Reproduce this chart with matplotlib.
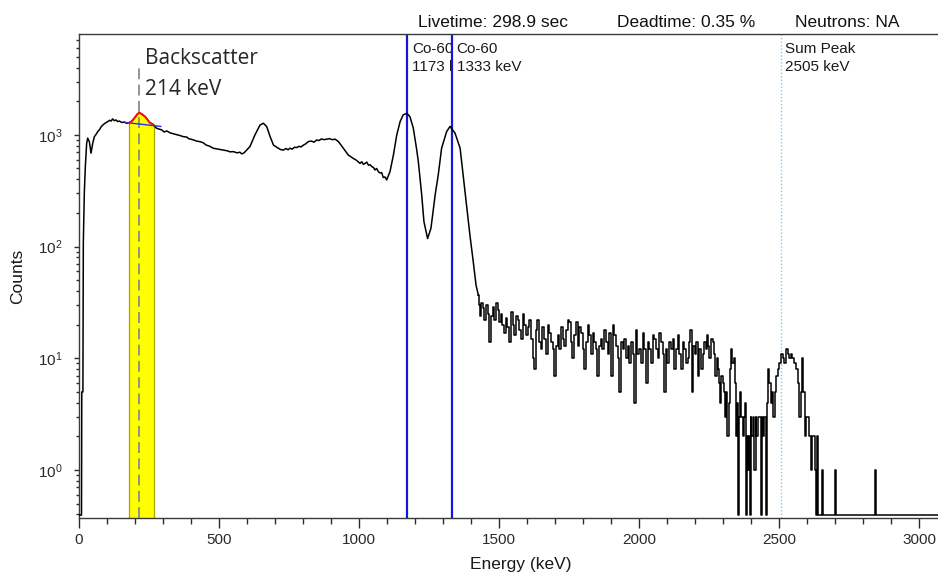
import numpy as np
import matplotlib
matplotlib.use("Agg")
import matplotlib.pyplot as plt
from matplotlib.patches import Rectangle
from matplotlib.transforms import blended_transform_factory
from matplotlib.ticker import MultipleLocator, LogLocator, NullFormatter

plt.rcParams["font.family"] = ["Liberation Sans", "DejaVu Sans"]
plt.rcParams["mathtext.fontset"] = "custom"
plt.rcParams["mathtext.rm"] = "Liberation Sans"
plt.rcParams["mathtext.it"] = "Liberation Sans:italic"
plt.rcParams["mathtext.bf"] = "Liberation Sans:bold"

# ---- spectrum: smooth continuum part (keV, counts) ----
continuum_kev = [0, 10, 11, 15, 16.5, 20, 23.7, 28.4, 32, 38, 44, 50, 56, 62, 68, 75, 80,
                 86, 92, 98, 104, 110, 116, 121, 127, 133, 139, 145, 151, 157, 163, 169,
                 175, 190, 201, 209, 216, 226, 237, 254, 264, 278, 287, 296, 305, 314,
                 327, 340, 352, 362, 373, 386, 392, 400, 410, 420, 433, 444, 455, 468,
                 480, 497, 515, 530, 540, 552, 565, 575, 582, 590, 600, 611, 629, 647,
                 659, 671, 683, 695, 712, 720, 730, 740, 747, 754, 762, 770, 778, 786,
                 794, 802, 810, 819, 830, 840, 849, 858, 866, 875, 885, 895, 905, 915,
                 927, 944, 962, 980, 992, 1004, 1010, 1016, 1022, 1028, 1034, 1040, 1046,
                 1052, 1057, 1063, 1069, 1075, 1081, 1087, 1093, 1099, 1111, 1123, 1135,
                 1147, 1158, 1171, 1182, 1194, 1206, 1212, 1218, 1224, 1232, 1245, 1257,
                 1272, 1283, 1295, 1313, 1325, 1343, 1361, 1373, 1385, 1396, 1408, 1418,
                 1426]
continuum_counts = [0, 0, 5, 5, 108, 300, 520, 840, 935, 870, 685, 840, 965, 1010, 1070,
                    1120, 1180, 1225, 1260, 1290, 1315, 1350, 1330, 1390, 1340, 1360, 1315,
                    1330, 1300, 1290, 1305, 1275, 1270, 1330, 1435, 1530, 1580, 1530, 1455,
                    1285, 1245, 1146, 1125, 1110, 1060, 1084, 1040, 1020, 1000, 985, 964,
                    955, 925, 915, 900, 880, 869, 850, 810, 790, 759, 745, 730, 720, 705,
                    708, 690, 700, 675, 690, 733, 785, 1000, 1225, 1270, 1185, 965, 810,
                    760, 740, 730, 755, 735, 760, 745, 775, 770, 790, 780, 810, 830, 870,
                    880, 860, 900, 890, 920, 905, 915, 925, 905, 915, 870, 760, 660, 615,
                    590, 555, 575, 545, 555, 570, 535, 540, 520, 510, 485, 500, 470, 455,
                    460, 415, 420, 395, 470, 660, 1000, 1315, 1510, 1560, 1455, 1150, 740,
                    575, 410, 290, 167, 118, 146, 290, 438, 760, 1070, 1190, 1035, 760, 410,
                    220, 127, 73, 45, 37]

# ---- spectrum: high-energy tail, channel readings (keV, counts) ----
tail_kev = [1426, 1429, 1432, 1438, 1444, 1450, 1456, 1462, 1468, 1474, 1480, 1486, 1492,
            1498, 1504, 1509, 1515, 1521, 1527, 1533, 1539, 1545, 1551, 1557, 1563, 1569,
            1575, 1581, 1587, 1593, 1599, 1605, 1611, 1617, 1623, 1628, 1634, 1640, 1646,
            1652, 1658, 1664, 1670, 1676, 1682, 1688, 1694, 1700, 1706, 1712, 1718, 1724,
            1730, 1736, 1742, 1748, 1753, 1759, 1765, 1771, 1777, 1783, 1789, 1795, 1801,
            1807, 1813, 1819, 1825, 1831, 1837, 1843, 1848, 1852, 1859, 1866, 1872, 1878,
            1884, 1890, 1896, 1902, 1908, 1914, 1920, 1926, 1932, 1938, 1944, 1950, 1956,
            1962, 1968, 1974, 1980, 1985, 1991, 1997, 2003, 2009, 2015, 2021, 2027, 2033,
            2039, 2045, 2051, 2057, 2063, 2069, 2075, 2081, 2087, 2092, 2098, 2104, 2110,
            2116, 2122, 2128, 2134, 2140, 2146, 2152, 2158, 2164, 2170, 2176, 2180, 2184,
            2191, 2196, 2200, 2206, 2211, 2217, 2223, 2229, 2235, 2239, 2243, 2248, 2253,
            2259, 2265, 2270, 2274, 2279, 2283, 2287, 2291, 2296, 2301, 2304, 2307, 2312,
            2318, 2321, 2324, 2327, 2330, 2336, 2342, 2345, 2348, 2351, 2354, 2357, 2360,
            2366, 2372, 2375, 2378, 2381, 2384, 2387, 2390, 2393, 2396, 2399, 2402, 2408,
            2414, 2417, 2420, 2426, 2432, 2435, 2437, 2440, 2443, 2449, 2455, 2458, 2461,
            2467, 2473, 2477, 2481, 2486, 2491, 2497, 2503, 2509, 2515, 2521, 2527, 2532,
            2538, 2544, 2550, 2556, 2562, 2568, 2574, 2579, 2584, 2588, 2592, 2598, 2604,
            2610, 2616, 2620, 2624, 2628, 2631, 2635, 2639, 2651, 2655, 2659, 2696, 2700,
            2704, 2839, 2843, 2847, 3160]
tail_counts = [37, 30, 24, 31, 28, 22, 30, 25, 14, 24, 29, 22, 31,
               27, 21, 25, 20, 17, 23, 19, 14, 26, 20, 16, 24, 22,
               18, 15, 25, 20, 16, 19, 22, 15, 10, 8, 18, 22, 14,
               12, 19, 15, 11, 20, 17, 14, 12, 7, 13, 16, 12, 19,
               15, 13, 18, 22, 21, 14, 10, 16, 21, 13, 19, 17, 12,
               8, 14, 20, 16, 11, 17, 14, 12, 7, 13, 15, 12, 18,
               14, 11, 17, 7, 20, 16, 13, 10, 5, 14, 12, 15, 10,
               13, 9, 14, 11, 4, 18, 11, 12, 9, 17, 12, 6, 14,
               12, 9, 16, 15, 12, 10, 17, 14, 11, 5, 12, 9, 14,
               12, 15, 8, 12, 16, 11, 8, 14, 12, 9, 10, 14, 18,
               5, 13, 11, 14, 7, 12, 8, 11, 14, 12, 16, 13, 10,
               15, 14, 11, 7, 10, 8, 6, 4, 7, 6, 5, 3, 5,
               2, 4, 5, 8, 12, 9, 10, 6, 2, 4, 0, 3, 5,
               3, 2, 3, 4, 2, 0, 2, 1, 2, 0, 3, 2, 3,
               1, 3, 2, 3, 3, 2, 0, 3, 2, 3, 0, 4, 8,
               6, 4, 5, 3, 5, 7, 8, 9, 11, 10, 9, 12, 11,
               10, 11, 10, 9, 8, 6, 3, 5, 10, 5, 2, 3, 3,
               2, 1, 2, 2, 1, 0, 2, 0, 0, 1, 0, 0, 1,
               0, 0, 1, 0, 0]

# ---- backscatter peak fit and its linear background ----
peak_kev = [181, 190, 201, 209, 216, 226, 237, 254, 264]
peak_counts = [1270, 1330, 1435, 1530, 1580, 1530, 1455, 1285, 1245]
bg_kev = [167, 293]
bg_counts = [1290, 1190]
roi_kev = [180.6, 267]
backscatter_kev = 214

# ---- marker lines ----
co60_kev = [1173, 1333]
sum_peak_kev = 2505
header_texts = ["Livetime: 298.9 sec", "Deadtime: 0.35 %", "Neutrons: NA"]

FLOOR = 0.395   # where empty channels are drawn on the log axis

W, H = 938, 577
fig = plt.figure(figsize=(W / 100, H / 100), dpi=100)
ax = fig.add_axes([78.7 / W, 1 - 518 / H, (962 - 78.7) / W, (518 - 34.3) / H])
ax.set_yscale("log")
ax.set_xlim(0, 3152)
ax.set_ylim(0.372, 7945)

# region of interest shading under the backscatter peak
fx = np.linspace(roi_kev[0], roi_kev[1], 80)
ftop = np.interp(fx, peak_kev, peak_counts)
ax.fill_between(fx, FLOOR * 0.9, ftop, color="#ffff00", lw=0, zorder=1)
ax.vlines(roi_kev, FLOOR * 0.9, [ftop[0], ftop[-1]], colors="#a6a600", lw=0.9, zorder=1.5)
ax.axvline(backscatter_kev, ymax=(518 - 67) / (518 - 34.3), color="#8a8a8a",
           lw=1.3, ls=(0, (6, 3)), zorder=1.6)

# nuclide marker lines
for e in co60_kev:
    ax.axvline(e, color="#1515dc", lw=1.6, zorder=2)
ax.axvline(sum_peak_kev, color="#86c8f2", lw=1.0, ls=(0, (1, 1.5)), zorder=2)

# spectrum
ax.plot(continuum_kev, np.maximum(continuum_counts, FLOOR), color="black", lw=1.1,
        zorder=3)
ax.plot(tail_kev, np.maximum(tail_counts, FLOOR), color="black", lw=1.1,
        drawstyle="steps-mid", zorder=3)

# backscatter fit
ax.plot(bg_kev, bg_counts, color="#2a2aff", lw=1.0, zorder=4)
ax.plot(peak_kev, peak_counts, color="#ff1010", lw=1.4, zorder=4)

# marker labels; the first one is cut off at the next marker line
trans = blended_transform_factory(ax.transData, ax.transAxes)
px = (962 - 78.7) / 3152  # pixels per keV
clip = Rectangle((co60_kev[0], 0), co60_kev[1] - co60_kev[0] - 1.2 / px, 1,
                 transform=trans)
labels = [(co60_kev[0], "Co-60", "1173 keV"),
          (co60_kev[1], "Co-60", "1333 keV"),
          (sum_peak_kev, "Sum Peak", "2505 keV")]
for i, (e, name, sub) in enumerate(labels):
    x = e + 4.4 / px
    t1 = ax.text(x, (518 - 53.4) / (518 - 34.3), name, transform=trans, fontsize=11,
                 va="baseline", ha="left", color="#1a1a1a", zorder=5)
    t2 = ax.text(x, (518 - 71) / (518 - 34.3), sub, transform=trans, fontsize=11,
                 va="baseline", ha="left", color="#1a1a1a", zorder=5)
    if i == 0:
        for t in (t1, t2):
            t.set_clip_path(clip)
            t.set_clip_on(True)

# backscatter annotation
fig.text(145 / W, 1 - 64.3 / H, "Backscatter", fontsize=15, family="Open Sans",
         color="#262626", va="baseline", ha="left")
fig.text(145 / W, 1 - 95 / H, "214 keV", fontsize=15, family="Open Sans",
         color="#262626", va="baseline", ha="left")

# header line
for x0, s in zip([418, 617, 795], header_texts):
    fig.text(x0 / W, 1 - 26.7 / H, s, fontsize=12.5, va="baseline", ha="left",
             color="#111111")

# axes styling
for side in ["left", "bottom", "top"]:
    ax.spines[side].set_color("#3a3a3a")
    ax.spines[side].set_linewidth(1.0)
ax.spines["right"].set_visible(False)

ax.xaxis.set_major_locator(MultipleLocator(500))
ax.xaxis.set_minor_locator(MultipleLocator(100))
ax.yaxis.set_major_locator(LogLocator(base=10, numticks=10))
ax.yaxis.set_minor_locator(LogLocator(base=10, subs=np.arange(2, 10), numticks=20))
ax.yaxis.set_minor_formatter(NullFormatter())
ax.tick_params(axis="x", which="major", direction="out", length=7, width=1,
               pad=3.5, labelsize=11, colors="#2a2a2a")
ax.tick_params(axis="x", which="minor", direction="out", length=4, width=1,
               colors="#2a2a2a")
ax.tick_params(axis="y", which="major", direction="out", length=3.5, width=1,
               pad=8, labelsize=11, colors="#2a2a2a")
ax.tick_params(axis="y", which="minor", direction="out", length=2, width=1,
               colors="#2a2a2a")
ax.tick_params(top=False, right=False, which="both")

ax.set_xlabel("Energy (keV)", fontsize=12.5, color="#1a1a1a")
ax.xaxis.set_label_coords(0.5, -(557 - 518) / (518 - 34.3))
ax.set_ylabel("Counts", fontsize=12.5, color="#1a1a1a")
ax.yaxis.set_label_coords(-(78.7 - 25) / (962 - 78.7), 0.5)

fig.savefig("out.png", dpi=100)
